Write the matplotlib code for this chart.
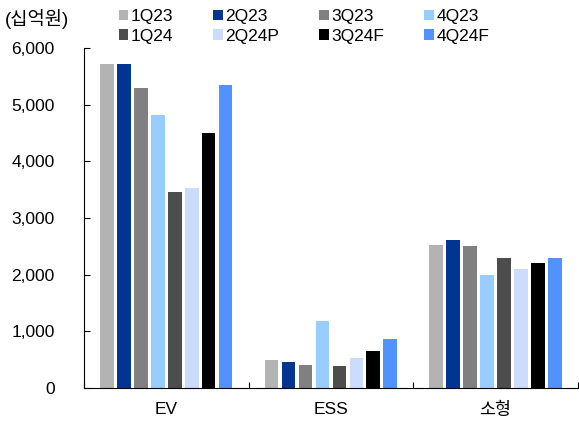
import matplotlib
matplotlib.use("Agg")
import matplotlib.pyplot as plt
import numpy as np

plt.rcParams['font.family'] = ['Liberation Sans', 'Noto Sans CJK KR']

categories = ['EV', 'ESS', '소형']
quarters = ['1Q23', '2Q23', '3Q23', '4Q23', '1Q24', '2Q24P', '3Q24F', '4Q24F']
ev = [5710, 5710, 5290, 4810, 3450, 3520, 4490, 5340]
ess = [500, 450, 410, 1180, 380, 520, 650, 860]
small = [2520, 2610, 2510, 2000, 2290, 2100, 2200, 2290]
colors = ['#b3b3b3', '#003591', '#808080', '#99ccff', '#4d4d4d', '#ccdcfe', '#000000', '#5292fe']

values = np.array([ev, ess, small])

fig = plt.figure(figsize=(5.79, 4.24), dpi=100)
ax = fig.add_axes([0.145, 0.085, 0.853, 0.802])

x = np.arange(len(categories))
slot = 0.103
width = 0.083
handles = []
for i, q in enumerate(quarters):
    pos = x + (i - 3.5) * slot
    b = ax.bar(pos, values[:, i], width=width, color=colors[i], label=q)
    handles.append(b)

ax.set_xlim(-0.5, 2.5)
ax.set_ylim(0, 6000)
ax.set_yticks(np.arange(0, 6001, 1000))
ax.set_yticklabels([f'{v:,}' for v in range(0, 6001, 1000)], fontsize=12.5)
ax.set_xticks([-0.5, 0.5, 1.5, 2.5])
ax.set_xticklabels([])
ax.set_xticks(x, minor=True)
ax.set_xticklabels(categories, minor=True, fontsize=12.5)
ax.tick_params(axis='x', which='minor', length=0, pad=10)
ax.tick_params(axis='both', which='major', direction='in', length=4, width=0.8)
ax.tick_params(axis='y', pad=21)
for s in ['top', 'right']:
    ax.spines[s].set_visible(False)

order = [0, 4, 1, 5, 2, 6, 3, 7]
fig.legend([handles[k] for k in order], [quarters[k] for k in order],
           ncol=4, loc='upper left', bbox_to_anchor=(0.178, 1.015),
           frameon=False, fontsize=12.5, handlelength=0.55, handleheight=0.55,
           handletextpad=0.15, columnspacing=2.3, labelspacing=0.25)

fig.text(0.008, 0.955, '(십억원)', fontsize=13.5, va='center')

fig.savefig('out.png', dpi=100)
